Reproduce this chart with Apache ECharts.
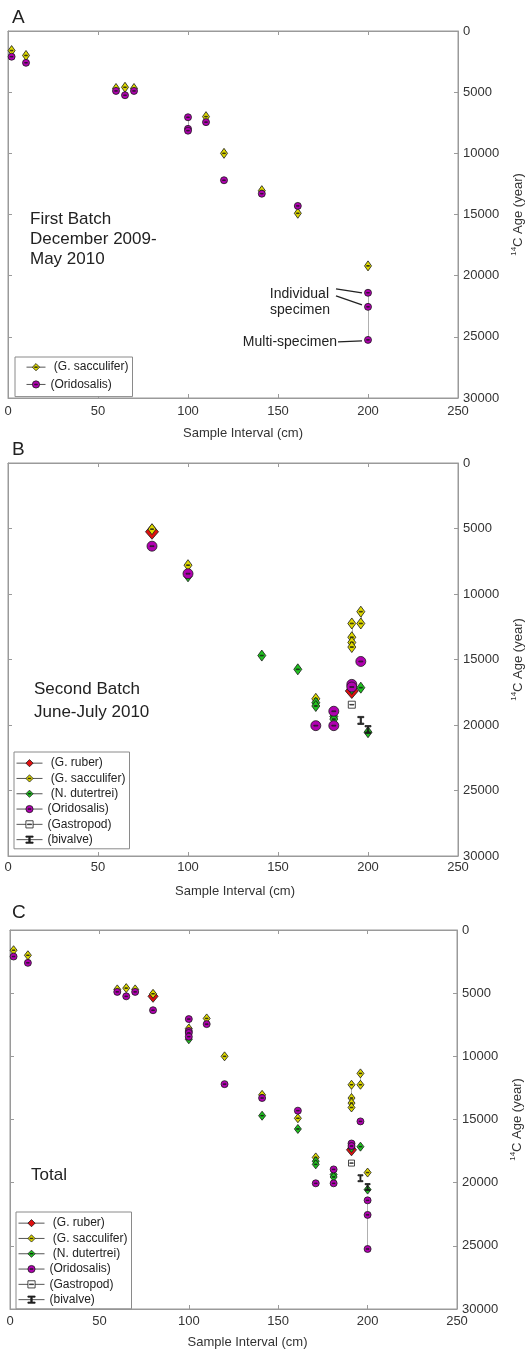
<!DOCTYPE html>
<html><head><meta charset="utf-8">
<script src="https://cdn.jsdelivr.net/npm/echarts@6/dist/echarts.min.js"></script>
<style>html,body{margin:0;padding:0;background:#fff}#c{width:525px;height:1352px}</style>
</head><body><div id="c"></div>
<script>
// ---------------- DATA ----------------
const SPECIES = [' (G. ruber)', ' (G. sacculifer)', ' (N. dutertrei)', '(Oridosalis)', '(Gastropod)', '(bivalve)'];
const X_TICKS = [0, 50, 100, 150, 200, 250];
const Y_TICKS = [0, 5000, 10000, 15000, 20000, 25000, 30000];
const PANEL_LABELS = ['A', 'B', 'C'];
const PANEL_NOTES = [['First Batch', 'December 2009-', 'May 2010'], ['Second Batch', 'June-July 2010'], ['Total']];

// Panel A: first batch (sample interval cm, 14C age yr)
const A_ruber = [];
const A_sacculifer = [[2,1600],[10,2000],[60,4700],[65,4600],[70,4700],[110,7000],[120,10000],[141,13050],[161,14900],[200,19200]];
const A_dutertrei = [];
const A_oridosalis = [[2,2100],[10,2600],[60,4900],[65,5250],[70,4900],[100,7050],[100,8000],[100,8150],[110,7450],[120,12200],[141,13300],[161,14300],[200,21400],[200,22550],[200,25250]];
const A_gastropod = [];
const A_bivalve = [];

// Panel B: second batch
const B_ruber = [[80,5250],[191,17400]];
const B_sacculifer = [[80,5050],[100,7800],[171,18000],[191,12250],[191,13300],[191,13700],[191,14050],[196,11350],[196,12250]];
const B_dutertrei = [[100,8650],[141,14700],[161,15750],[171,18300],[171,18550],[181,19350],[181,19550],[191,17250],[196,17150],[200,20550]];
const B_oridosalis = [[80,6350],[100,8450],[171,20050],[181,18950],[181,20050],[191,16900],[191,17100],[196,15150]];
const B_gastropod = [[191,18450]];
const B_bivalve = [[196,19650],[200,20350]];

// Annotations (panel A), anchored on data points
const ANNOT_TEXT = ['Individual', 'specimen', 'Multi-specimen'];
const ANNOT_ANCHOR = [[200,21400],[200,22550],[200,25250]];

// ---------------- STYLE ----------------
const FONT = 'Liberation Sans, Arial, sans-serif';
const COLORS = ['#e01010', '#e0da00', '#1fc21f', '#b000b0', '#ffffff', '#222222'];
const DIAMOND_BAR = 'path://M5,0L10,6L5,12L0,6Z M3,5.6L7,5.6L7,6.4L3,6.4Z';
const CIRCLE_BAR = 'path://M5,0A5,5,0,1,1,5,10A5,5,0,1,1,5,0Z M3,4.6L7,4.6L7,5.4L3,5.4Z';
const SQUARE_BAR = 'path://M0,0L10,0L10,10L0,10Z M2,4.6L8,4.6L8,5.4L2,5.4Z';
const BIVALVE_PATH = 'path://M0,0L10,0L10,1.6L6,1.6L6,8.4L10,8.4L10,10L0,10L0,8.4L4,8.4L4,1.6L0,1.6Z';
const SYMBOLS = ['diamond', DIAMOND_BAR, DIAMOND_BAR, CIRCLE_BAR, SQUARE_BAR, BIVALVE_PATH];
const SIZES = [
  [[12,14],[7,10],[7,10],7,6,[5,7]],
  [[13,15],[8,11],[8,11],10,7,[6,8]],
  [[10,12],[7,9],[7,9],7,6,[5,7]]
];
const GRIDS = [
  {left: 8, top: 31, width: 450, height: 367},
  {left: 8, top: 463, width: 450, height: 393},
  {left: 10, top: 930, width: 447, height: 379}
];
const X_NAME_GAP = [29, 29, 27];
const X_NAME_SHIFT = [20, 4, 28];
const X_LABEL_MARGIN = [7, 5, 6];

const PANELS = [
  [A_ruber, A_sacculifer, A_dutertrei, A_oridosalis, A_gastropod, A_bivalve],
  [B_ruber, B_sacculifer, B_dutertrei, B_oridosalis, B_gastropod, B_bivalve]
];
PANELS.push(PANELS[0].map((a, i) => a.concat(PANELS[1][i])));

const AX_COLOR = '#9a9a9a';
const LBL_COLOR = '#333';
const plain = v => String(v);

const xAxes = [], yAxes = [], series = [];
GRIDS.forEach((g, p) => {
  const common = {gridIndex: p, type: 'value', min: X_TICKS[0], max: X_TICKS[X_TICKS.length-1], interval: X_TICKS[1]-X_TICKS[0],
    splitLine: {show: false}, axisLine: {show: true, onZero: false, lineStyle: {color: AX_COLOR}},
    axisTick: {show: true, inside: true, length: 4, lineStyle: {color: AX_COLOR}}};
  xAxes.push(Object.assign({}, common, {position: 'bottom',
    axisLabel: {color: LBL_COLOR, fontSize: 13, fontFamily: FONT, margin: X_LABEL_MARGIN[p], formatter: plain},
    name: 'Sample Interval (cm)', nameLocation: 'middle', nameGap: X_NAME_GAP[p],
    nameTextStyle: {color: LBL_COLOR, fontSize: 13, fontFamily: FONT, padding: [0, 0, 0, X_NAME_SHIFT[p]]}}));
  xAxes.push(Object.assign({}, common, {position: 'top', axisLabel: {show: false}}));
  const ycommon = {gridIndex: p, type: 'value', inverse: true, min: Y_TICKS[0], max: Y_TICKS[Y_TICKS.length-1], interval: Y_TICKS[1]-Y_TICKS[0],
    splitLine: {show: false}, axisLine: {show: true, onZero: false, lineStyle: {color: AX_COLOR}},
    axisTick: {show: true, inside: true, length: 4, lineStyle: {color: AX_COLOR}}};
  yAxes.push(Object.assign({}, ycommon, {position: 'right',
    axisLabel: {color: LBL_COLOR, fontSize: 13, fontFamily: FONT, margin: 5, formatter: plain},
    name: '{s|14}{n|C Age (year)}', nameLocation: 'middle', nameGap: 39,
    nameTextStyle: {color: LBL_COLOR, fontFamily: FONT,
      rich: {s: {fontSize: 8, verticalAlign: 'top', lineHeight: 16, fontFamily: FONT, color: LBL_COLOR},
             n: {fontSize: 13, lineHeight: 16, fontFamily: FONT, color: LBL_COLOR}}}}));
  yAxes.push(Object.assign({}, ycommon, {position: 'left', axisLabel: {show: false}}));

  // grey connectors between same-species points at the same interval
  const conn = [];
  PANELS[p].forEach(arr => {
    const byX = {};
    arr.forEach(d => { (byX[d[0]] = byX[d[0]] || []).push(d[1]); });
    Object.keys(byX).forEach(k => {
      const v = byX[k];
      if (v.length > 1) conn.push({coords: [[+k, Math.min(...v)], [+k, Math.max(...v)]]});
    });
  });
  series.push({type: 'lines', coordinateSystem: 'cartesian2d', xAxisIndex: p*2, yAxisIndex: p*2,
    data: conn, lineStyle: {color: '#b0b0b0', width: 1, opacity: 1}, silent: true, z: 1});

  PANELS[p].forEach((arr, i) => {
    if (!arr.length) return;
    series.push({type: 'line', name: SPECIES[i], xAxisIndex: p*2, yAxisIndex: p*2, data: arr,
      symbol: SYMBOLS[i], symbolSize: SIZES[p][i], showSymbol: true,
      lineStyle: {width: 0, opacity: 0},
      itemStyle: {color: COLORS[i], borderColor: '#1a1a1a', borderWidth: 0.8, opacity: 1},
      emphasis: {disabled: true}, silent: true, z: 2, clip: false});
  });
});

const legendItem = i => ({name: SPECIES[i],
  itemStyle: {color: COLORS[i], borderColor: '#1a1a1a', borderWidth: 0.8, opacity: 1}});
const legendCommon = {orient: 'vertical', selectedMode: false, backgroundColor: '#fff',
  borderColor: '#8a8a8a', borderWidth: 1, itemWidth: 26, itemHeight: 9, itemGap: 3,
  textStyle: {fontSize: 12, color: '#222', fontFamily: FONT, lineHeight: 12.3},
  lineStyle: {color: '#555', width: 1, opacity: 1}};
const legends = [
  Object.assign({}, legendCommon, {data: [1, 3].map(legendItem), left: 15, top: 357, padding: [4, 4, 6, 11], itemGap: 5, itemWidth: 19}),
  Object.assign({}, legendCommon, {data: [0,1,2,3,4,5].map(legendItem), left: 14, top: 752, padding: [5, 4, 3, 2]}),
  Object.assign({}, legendCommon, {data: [0,1,2,3,4,5].map(legendItem), left: 16, top: 1212, padding: [5, 4, 3, 2]})
];

const graphics = [];
const letterTops = [8, 440, 903];
PANEL_LABELS.forEach((t, p) => graphics.push({type: 'text', left: 12, top: letterTops[p],
  style: {text: t, fontSize: 19, fill: '#222', fontFamily: FONT}}));
const noteTops = [[211, 231, 251], [681, 704], [1167]];
const noteLeft = [30, 34, 31];
PANEL_NOTES.forEach((lines, p) => lines.forEach((t, j) => graphics.push({type: 'text', left: noteLeft[p], top: noteTops[p][j],
  style: {text: t, fontSize: 17, fill: '#222', fontFamily: FONT}})));

const chart = echarts.init(document.getElementById('c'), null, {renderer: 'canvas'});
chart.setOption({animation: false, backgroundColor: '#fff',
  grid: GRIDS.map(g => Object.assign({show: true, borderColor: AX_COLOR, borderWidth: 1, backgroundColor: 'transparent',
    containLabel: false, outerBoundsMode: 'none'}, g)),
  xAxis: xAxes, yAxis: yAxes, legend: legends, series: series, graphic: graphics});

// annotation text + leader lines, positioned from data anchors
const LINE_OFF = [[-32,-4,-6,0], [-32,-11,-6,-2], [-30,2,-6,1]];
const TEXT_OFF = [[-39,1], [-38,3], [-31,2]];
ANNOT_ANCHOR.forEach((d, k) => {
  const px = chart.convertToPixel({xAxisIndex: 0, yAxisIndex: 0}, d);
  const lo = LINE_OFF[k], to = TEXT_OFF[k];
  graphics.push({type: 'line', shape: {x1: px[0]+lo[0], y1: px[1]+lo[1], x2: px[0]+lo[2], y2: px[1]+lo[3]},
    style: {stroke: '#222', lineWidth: 1.3}, z: 10});
  graphics.push({type: 'text', x: px[0]+to[0], y: px[1]+to[1],
    style: {text: ANNOT_TEXT[k], fontSize: 14, fill: '#222', fontFamily: FONT, textAlign: 'right', textVerticalAlign: 'middle'}, z: 10});
});
chart.setOption({graphic: graphics});
</script></body></html>
